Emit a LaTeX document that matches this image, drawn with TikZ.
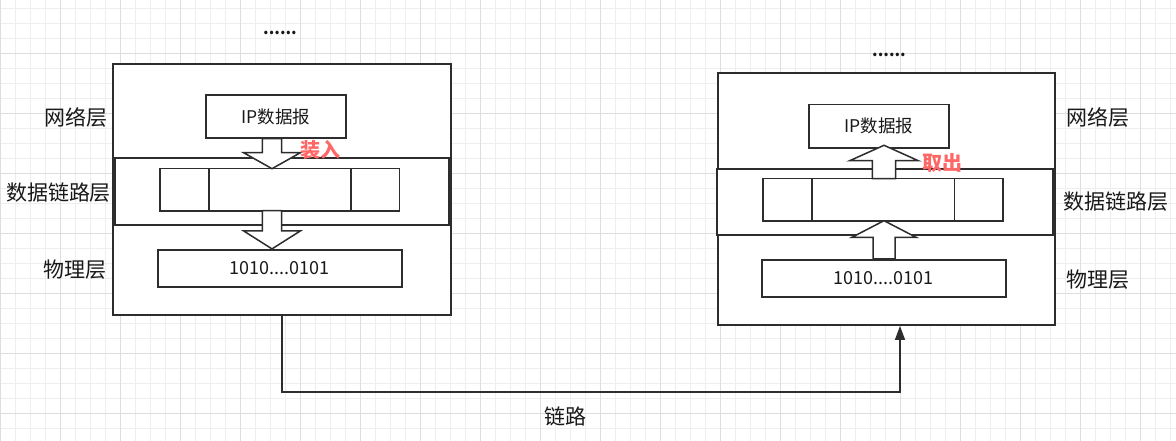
\documentclass[tikz,border=0pt]{standalone}
\usepackage{fontspec}
\setmainfont{Noto Sans CJK SC}
\usepackage{tikz}
\usetikzlibrary{positioning,calc,arrows.meta}
\definecolor{linegray}{RGB}{45,45,45}
\definecolor{txtgray}{RGB}{25,25,25}
\definecolor{markred}{RGB}{255,102,102}
\definecolor{gridminor}{RGB}{238,238,238}
\definecolor{gridmajor}{RGB}{222,222,222}
\tikzset{
    host/.style={rectangle, draw=linegray, fill=white, line width=1.8pt, inner sep=0pt},
    band/.style={rectangle, draw=linegray, fill=white, line width=1.8pt, inner sep=0pt},
    pdu/.style={rectangle, draw=linegray, fill=white, line width=1.6pt, inner sep=0pt, font=\fontsize{17.5}{20}\selectfont, text=txtgray},
    cell/.style={rectangle, draw=linegray, fill=white, line width=1.6pt, minimum height=42pt, inner sep=0pt, outer sep=0pt},
    layername/.style={font=\fontsize{21}{25}\selectfont, text=txtgray},
    redtag/.style={font=\fontsize{20}{24}\bfseries, text=markred},
    dotrow/.style={font=\fontsize{16}{18}\bfseries, text=txtgray},
    bigarrow/.style={draw=linegray, fill=white, line width=1.5pt, line join=miter},
    link/.style={draw=linegray, line width=1.6pt, -{Triangle[width=10pt,length=14pt]}},
}
% block arrow: from, to, shaft half width, head half width, head length
\newcommand{\bigarrow}[5]{%
    \draw[bigarrow] let \p1=(#1), \p2=(#2), \n1={\y2>\y1 ? 1 : -1}, \n2={\y2-\n1*#5} in
        (\x1-#3pt,\y1) -- (\x1-#3pt,\n2) -- (\x1-#4pt,\n2) -- (\x1,\y2)
        -- (\x1+#4pt,\n2) -- (\x1+#3pt,\n2) -- (\x1+#3pt,\y1) -- cycle;
}

\begin{document}
\begin{tikzpicture}[x=1pt, y=-1pt]
    \useasboundingbox (0,0) rectangle (1176,441);
    \fill[white] (0,0) rectangle (1176,441);
    % grid
    \foreach \gx in {0,15,...,1175} {
        \draw[gridminor, line width=1pt] (\gx,0) -- (\gx,441);
    }
    \foreach \gy in {8.3,23.3,...,440} {
        \draw[gridminor, line width=1pt] (0,\gy) -- (1176,\gy);
    }
    \foreach \gx in {0,60,...,1175} {
        \draw[gridmajor, line width=1pt] (\gx,0) -- (\gx,441);
    }
    \foreach \gy in {53.3,113.3,...,440} {
        \draw[gridmajor, line width=1pt] (0,\gy) -- (1176,\gy);
    }

    % sending host
    \node[host, minimum width=337.7pt, minimum height=251pt] (hostL) at (282.2,189.8) {};
    \node[band, minimum width=334.3pt, minimum height=66.7pt] (bandL) at (282.2,191.7) {};
    \node[pdu, minimum width=139.7pt, minimum height=42.7pt] (ipL) at (275.9,116.4) {IP数据报};
    \node[cell, minimum width=49pt] (hdrL) at (184.5,189.7) {};
    \node[cell, minimum width=142pt, right=0pt of hdrL] (datL) {};
    \node[cell, minimum width=48.3pt, right=0pt of datL] (trlL) {};
    \node[pdu, minimum width=243.7pt, minimum height=37pt, font=\fontsize{18}{20}\selectfont] (phyL) at (279.9,268.2) {1010....0101};
    \node[dotrow] (dotL) at (280,33) {......};

    % receiving host
    \node[host, minimum width=337.3pt, minimum height=251.7pt] (hostR) at (886.4,199.2) {};
    \node[band, minimum width=335.7pt, minimum height=66pt] (bandR) at (884.9,201.7) {};
    \node[pdu, minimum width=140pt, minimum height=43.7pt] (ipR) at (878.7,126.2) {IP数据报};
    \node[cell, minimum width=49pt] (hdrR) at (787.2,199.7) {};
    \node[cell, minimum width=142.6pt, right=0pt of hdrR] (datR) {};
    \node[cell, minimum width=48.4pt, right=0pt of datR] (trlR) {};
    \node[pdu, minimum width=244pt, minimum height=37pt, font=\fontsize{18}{20}\selectfont] (phyR) at (883.7,278.2) {1010....0101};
    \node[dotrow] (dotR) at (889,55) {......};

    % encapsulate / decapsulate
    \coordinate (aL) at (272,0);
    \coordinate (aR) at (884,0);
    \bigarrow{aL |- ipL.south}{aL |- hdrL.north}{9.7}{28.4}{16}
    \bigarrow{aL |- hdrL.south}{aL |- phyL.north}{9.7}{28.4}{18}
    \bigarrow{aR |- hdrR.north}{883,145.3}{11.7}{34.3}{15.4}
    \bigarrow{aR |- phyR.north}{aR |- hdrR.south}{11}{32.3}{16.7}
    \node[redtag] (putL) at (320,150) {装入};
    \node[redtag] (getR) at (942.5,163.3) {取出};

    % layer names
    \node[layername] (netL) at (76.5,117) {网络层};
    \node[layername] (dllL) at (58.5,193) {数据链路层};
    \node[layername] (phlL) at (75,270) {物理层};
    \node[layername] (netR) at (1098,117) {网络层};
    \node[layername] (dllR) at (1115.5,201.7) {数据链路层};
    \node[layername] (phlR) at (1098,279.3) {物理层};

    % link between the hosts
    \coordinate (lkEnd) at ($(hostR.south)+(13.6,0)$);
    \draw[link] (hostL.south) -- ++(0,75.7) -| (lkEnd);
    \node[layername] (lnk) at (565,416) {链路};
\end{tikzpicture}
\end{document}
